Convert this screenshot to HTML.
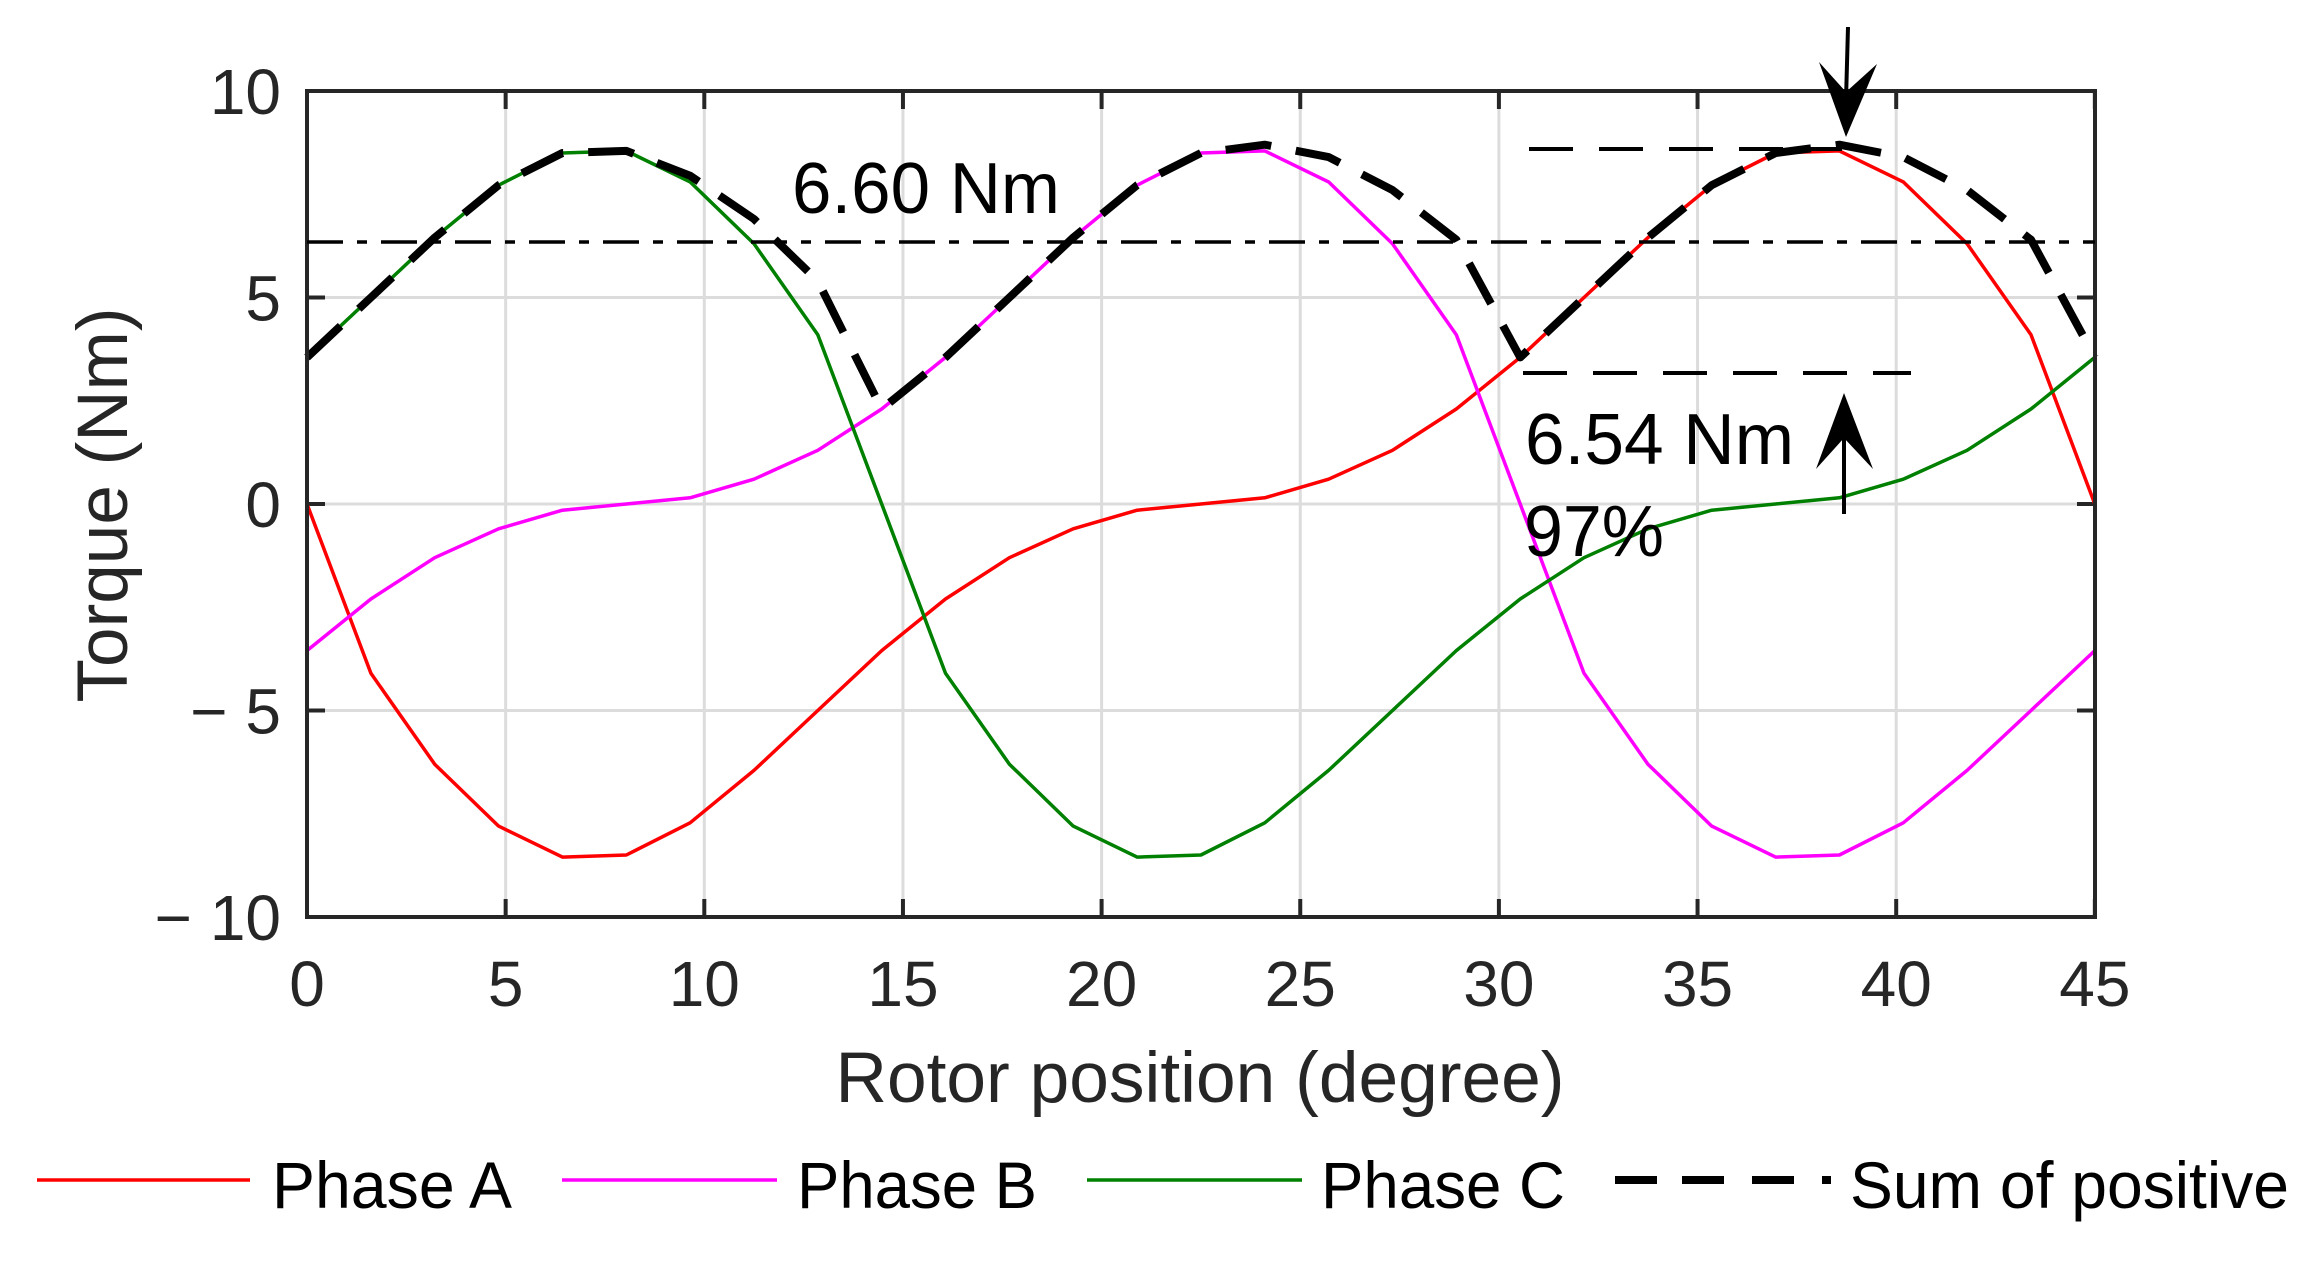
<!DOCTYPE html>
<html><head><meta charset="utf-8"><style>
html,body{margin:0;padding:0;background:#fff;}
svg{display:block;font-family:"Liberation Sans",Arial,sans-serif;}
</style></head><body>
<svg id="s" width="2309" height="1266" viewBox="0 0 2309 1266" xmlns="http://www.w3.org/2000/svg">
<rect width="2309" height="1266" fill="#fff"/>
<g id="grid" stroke="#dcdcdc" stroke-width="3"></g>
<g id="ticks" stroke="#262626" stroke-width="4"></g>
<g id="series" fill="none" stroke-linejoin="round"></g>
<rect x="307" y="91" width="1788" height="826" fill="none" stroke="#262626" stroke-width="4"/>
<g id="labels" fill="#262626" font-size="64"></g>
<text x="1200" y="1102" text-anchor="middle" font-size="71" fill="#262626" textLength="729" lengthAdjust="spacingAndGlyphs">Rotor position (degree)</text>
<text transform="translate(127,505) rotate(-90)" text-anchor="middle" font-size="71" fill="#262626" textLength="395" lengthAdjust="spacingAndGlyphs">Torque (Nm)</text>
<line x1="307" y1="242" x2="2095" y2="242" stroke="#000" stroke-width="3.5" stroke-dasharray="36,14,10,14"/>
<line x1="1529" y1="149" x2="1842" y2="149" stroke="#000" stroke-width="4" stroke-dasharray="44,26"/>
<line x1="1523" y1="373" x2="1911" y2="373" stroke="#000" stroke-width="4" stroke-dasharray="44,26"/>
<line x1="1848" y1="27" x2="1846" y2="100" stroke="#000" stroke-width="4"/>
<polygon points="1819,62 1846,92 1877,64 1846,137" fill="#000"/>
<line x1="1844" y1="514" x2="1844" y2="430" stroke="#000" stroke-width="4"/>
<polygon points="1816,469 1844,438 1873,469 1844,393" fill="#000"/>
<text x="792" y="213" font-size="72" fill="#000" textLength="268" lengthAdjust="spacingAndGlyphs">6.60 Nm</text>
<text x="1525" y="464" font-size="72" fill="#000" textLength="269" lengthAdjust="spacingAndGlyphs">6.54 Nm</text>
<text x="1524" y="556" font-size="72" fill="#000" textLength="140" lengthAdjust="spacingAndGlyphs">97%</text>
<line x1="37" y1="1180" x2="250" y2="1180" stroke="#ff0000" stroke-width="3.5"/>
<text x="272" y="1208" font-size="66" fill="#000" textLength="240" lengthAdjust="spacingAndGlyphs">Phase A</text>
<line x1="562" y1="1180" x2="777" y2="1180" stroke="#ff00ff" stroke-width="3.5"/>
<text x="797" y="1208" font-size="66" fill="#000" textLength="240" lengthAdjust="spacingAndGlyphs">Phase B</text>
<line x1="1087" y1="1180" x2="1302" y2="1180" stroke="#008000" stroke-width="3.5"/>
<text x="1321" y="1208" font-size="66" fill="#000" textLength="244" lengthAdjust="spacingAndGlyphs">Phase C</text>
<line x1="1615" y1="1180" x2="1831" y2="1180" stroke="#000" stroke-width="8" stroke-dasharray="42,25,42,28,42,28,9,100"/>
<text x="1850" y="1208" font-size="66" fill="#000" textLength="439" lengthAdjust="spacingAndGlyphs">Sum of positive</text>
</svg>
<script>
(function(){
var NS="http://www.w3.org/2000/svg";
function X(d){return 307+d*39.73;}
function Y(v){return 504-v*41.3;}
function el(p,t,a,txt){var e=document.createElementNS(NS,t);for(var k in a)e.setAttribute(k,a[k]);if(txt!=null)e.textContent=txt;document.getElementById(p).appendChild(e);return e;}
for(var d=5;d<45;d+=5){el("grid","line",{x1:X(d),y1:91,x2:X(d),y2:917});}
for(var v=-5;v<10;v+=5){el("grid","line",{x1:307,y1:Y(v),x2:2095,y2:Y(v)});}
for(var d=0;d<=45;d+=5){el("ticks","line",{x1:X(d),y1:917,x2:X(d),y2:899});el("ticks","line",{x1:X(d),y1:91,x2:X(d),y2:109});
 el("labels","text",{x:X(d),y:1006,"text-anchor":"middle"},String(d));}
for(var v=-10;v<=10;v+=5){el("ticks","line",{x1:307,y1:Y(v),x2:325,y2:Y(v)});el("ticks","line",{x1:2095,y1:Y(v),x2:2077,y2:Y(v)});
 var s=v<0?"\u2212 "+(-v):String(v);el("labels","text",{x:281,y:Y(v)+23,"text-anchor":"end"},s);}
var h=[0,-4.1,-6.3,-7.8,-8.55,-8.5,-7.72,-6.45,-5.0,-3.55,-2.3,-1.3,-0.6,-0.15,0];
var A=[];for(var i=0;i<=28;i++){A[i]=i<=14?h[i]:-h[28-i];}
var st=45/28;
function B(i){return A[(i+9)%28];}
function C(i){return A[(i+19)%28];}
function path(fn){var p="";for(var i=0;i<=28;i++){p+=(i?"L":"M")+X(i*st).toFixed(1)+","+Y(fn(i)).toFixed(1);}return p;}
el("series","path",{d:path(function(i){return A[i];}),stroke:"#ff0000","stroke-width":3.5});
el("series","path",{d:path(B),stroke:"#ff00ff","stroke-width":3.5});
el("series","path",{d:path(C),stroke:"#008000","stroke-width":3.5});
el("series","path",{d:path(function(i){return Math.max(A[i],0)+Math.max(B(i),0)+Math.max(C(i),0);}),stroke:"#000","stroke-width":8,"stroke-dasharray":"46,25"});
})();
</script>
</body></html>
